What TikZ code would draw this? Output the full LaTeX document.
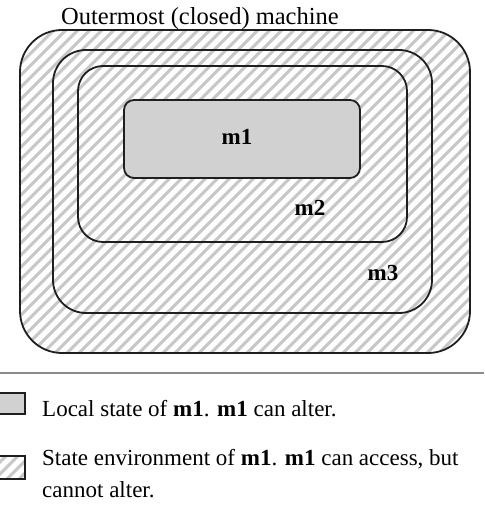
\documentclass[tikz,border=0pt]{standalone}
\usepackage{fontspec}
\setmainfont{Liberation Serif}
\begin{document}
\begin{tikzpicture}[x=1pt,y=-1pt,
  hatch/.style={draw=black!22, line width=3pt},
  outline/.style={draw=black!88, line width=1.8pt},
  lbl/.style={font=\fontsize{23}{27}\selectfont\bfseries, inner sep=0pt, anchor=base},
  legtext/.style={font=\fontsize{23}{27}\selectfont, inner sep=0pt, anchor=base west}]
\useasboundingbox (0,0) rectangle (484,510);
\clip (0,0) rectangle (484,510);
% hatching of the whole outermost machine
\begin{scope}
  \clip[rounded corners=42pt] (20,30) rectangle (470,353);
  \foreach \c in {0,12,...,1000} \draw[hatch] (\c,0) -- (\c-520,520);
\end{scope}
% machines
\draw[outline, rounded corners=42pt] (20,30) rectangle (470,353);
\draw[outline, rounded corners=33pt] (53,50) rectangle (432,313);
\draw[outline, rounded corners=25pt] (78,66) rectangle (407,242);
\draw[outline, fill=black!18, rounded corners=10pt] (124,100) rectangle (360,178);
% labels
\node[font=\fontsize{24.5}{29}\selectfont, inner sep=0pt, anchor=base west] (title) at (61,25) {Outermost (closed) machine};
\node[lbl] (m1) at (237,145) {m1};
\node[lbl] (m2) at (310,215) {m2};
\node[lbl] (m3) at (383,280) {m3};
% separator
\coordinate (sepL) at (0,373);
\coordinate (sepR) at (484,373);
\draw[draw=black!45, line width=2pt] (sepL) -- (sepR);
% legend
\draw[outline, line width=1.5pt, fill=black!18] (-3,393) rectangle (25,414);
\begin{scope}
  \clip (-3,456) rectangle (25,479);
  \foreach \c in {-6,6,...,66} \draw[draw=black!22, line width=3pt] (\c,456) -- (\c-30,486);
\end{scope}
\draw[outline, line width=1.5pt] (-3,456) rectangle (25,479);
\node[legtext] (leg1) at (42,416) {Local state of \textbf{m1}. \textbf{m1} can alter.};
\node[legtext] (leg2a) at (42,465) {State environment of \textbf{m1}. \textbf{m1} can access, but};
\node[legtext] (leg2b) at (42,497) {cannot alter.};
\end{tikzpicture}
\end{document}
